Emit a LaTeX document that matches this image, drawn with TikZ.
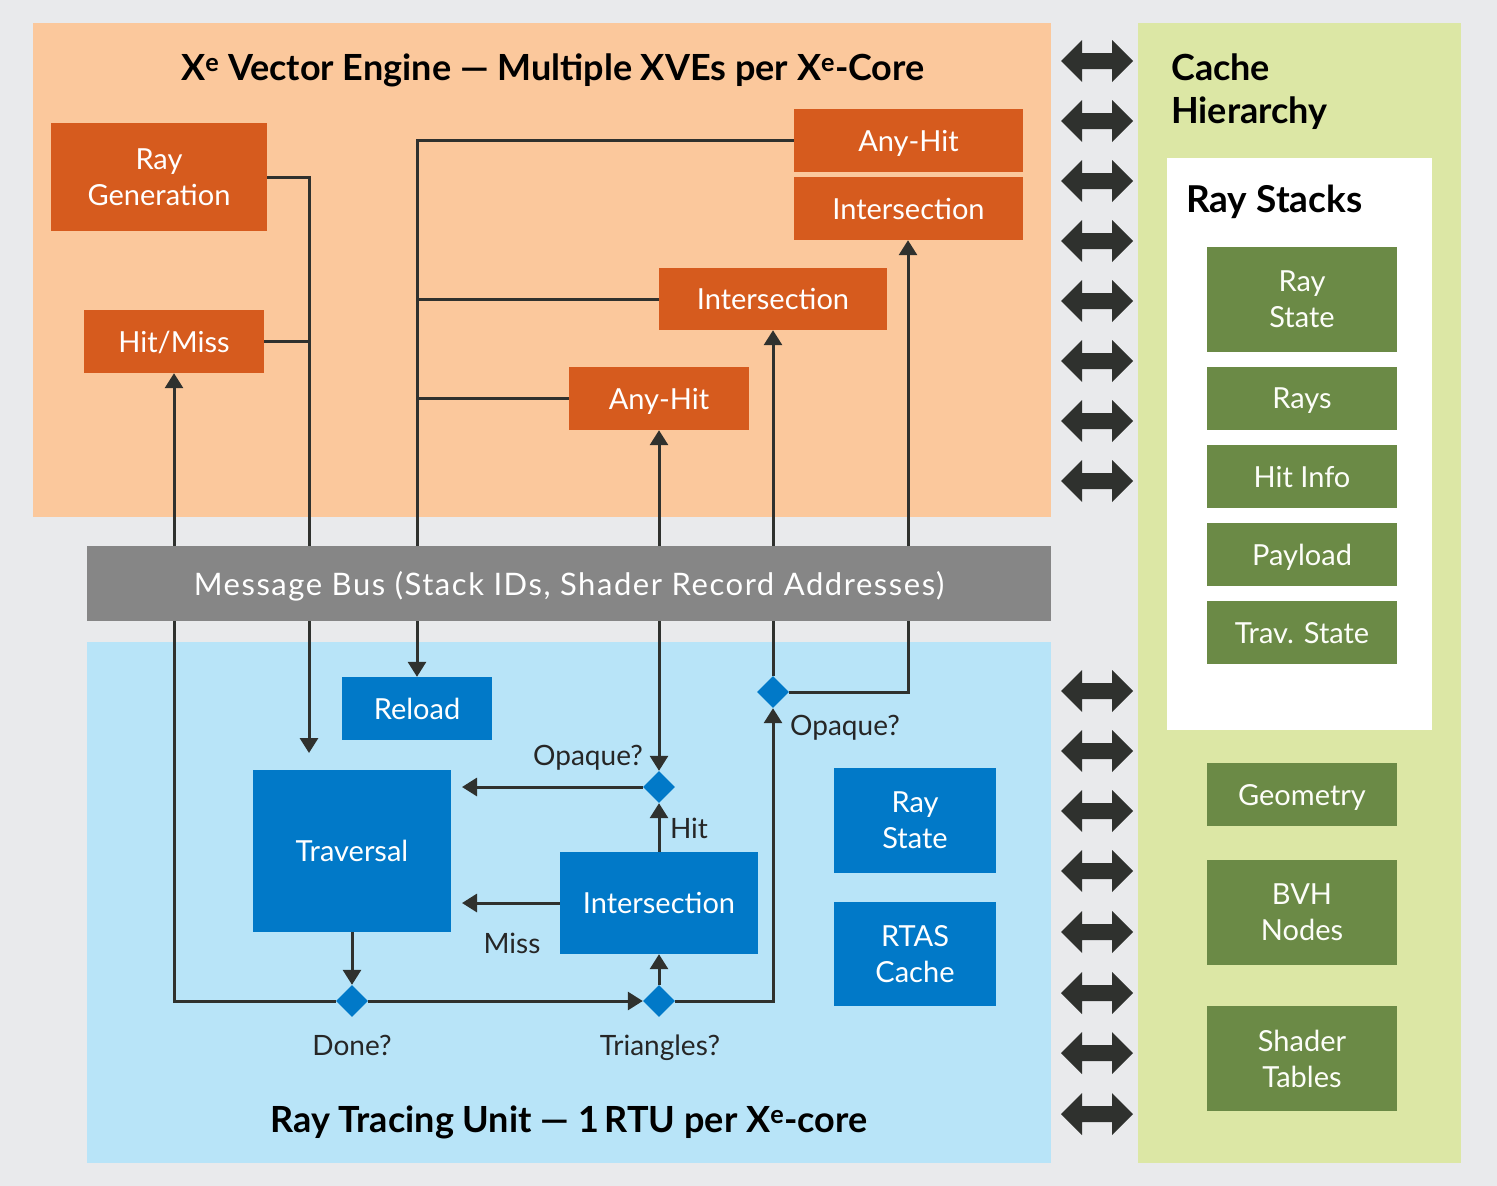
\documentclass[tikz,border=0pt]{standalone}
\usepackage{fontspec}
\setmainfont{Lato}
\usetikzlibrary{arrows.meta,shapes.geometric}
\definecolor{bgc}{HTML}{E9EAEC}
\definecolor{opanel}{HTML}{FBC89C}
\definecolor{obox}{HTML}{D65B1E}
\definecolor{busc}{HTML}{868686}
\definecolor{bpanel}{HTML}{B8E4F8}
\definecolor{bbox}{HTML}{0179C8}
\definecolor{gpanel}{HTML}{DCE7A5}
\definecolor{gbox}{HTML}{6B8A46}
\definecolor{ink}{HTML}{2F312E}
\newcommand\fsz[2]{\fontsize{#1}{#2}\selectfont}
\begin{document}
\begin{tikzpicture}[x=1pt,y=-1pt,
  ob/.style={rectangle, fill=obox, text=white, inner sep=0pt, text depth=0pt, align=center, font=\fsz{29}{36}},
  bb/.style={rectangle, fill=bbox, text=white, inner sep=0pt, text depth=0pt, align=center, font=\fsz{29}{36}},
  gb/.style={rectangle, fill=gbox, text=white!92!gpanel, inner sep=0pt, text depth=0pt, align=center, font=\fsz{29}{36}, minimum width=190pt},
  dia/.style={diamond, fill=bbox, inner sep=0pt, minimum width=32pt, minimum height=32pt},
  conn/.style={draw=ink, line width=3pt},
  arr/.style={conn, -{Triangle[length=15pt,width=18pt]}},
  lbl/.style={text=black!85, font=\fsz{28}{32}, inner sep=0pt, text depth=0pt},
  ttl/.style={text=black, font=\bfseries\fsz{36}{42}, inner sep=0pt, text depth=0pt},
  dbl/.pic={\fill[ink] (-36,0) -- (-15,-21) -- (-15,-8) -- (15,-8) -- (15,-21) -- (36,0) -- (15,21) -- (15,8) -- (-15,8) -- (-15,21) -- cycle;}
]
% background and panels
\fill[bgc] (0,0) rectangle (1497,1186);
\useasboundingbox (0,0) rectangle (1497,1186);
\fill[opanel] (33,23) rectangle (1051,517);
\fill[bpanel] (87,642) rectangle (1051,1163);
\fill[gpanel] (1138,23) rectangle (1461,1163);
\fill[white] (1167,158) rectangle (1432,730);

% titles
\node[ttl] (ttop) at (553,67) {X\textsuperscript{e} Vector Engine — Multiple XVEs per X\textsuperscript{e}-Core};
\node[ttl] (tbot) at (569,1119) {Ray Tracing Unit — 1\,RTU per X\textsuperscript{e}-core};
\node[ttl, anchor=west, align=left, font=\bfseries\fsz{36}{43}] (tcache) at (1171,88.5) {Cache\\Hierarchy};
\node[ttl, anchor=west, font=\bfseries\fsz{37}{43}] (tstack) at (1186,199) {Ray Stacks};

% orange boxes
\node[ob, minimum width=216pt, minimum height=108pt] (rg) at (159,177) {Ray\\Generation};
\node[ob, minimum width=180pt, minimum height=63pt] (hm) at (174,341.5) {Hit/Miss};
\node[ob, minimum width=229pt, minimum height=63pt] (ah1) at (908.5,140.5) {Any-Hit};
\node[ob, minimum width=229pt, minimum height=63pt] (is1) at (908.5,208.5) {Intersection};
\node[ob, minimum width=228pt, minimum height=62pt] (is2) at (773,299) {Intersection};
\node[ob, minimum width=180pt, minimum height=63pt] (ah2) at (659,398.5) {Any-Hit};

% message bus
\node[rectangle, fill=busc, text=white, inner sep=0pt, text depth=0pt, minimum width=964pt, minimum height=75pt, font=\fsz{31}{36}\addfontfeatures{LetterSpace=5}] (bus) at (569,583.5) {Message Bus (Stack IDs, Shader Record Addresses)};

% blue boxes
\node[bb, minimum width=150pt, minimum height=63pt] (reload) at (417,708.5) {Reload};
\node[bb, minimum width=198pt, minimum height=162pt] (trav) at (352,851) {Traversal};
\node[bb, minimum width=198pt, minimum height=102pt] (isec) at (659,903) {Intersection};
\node[bb, minimum width=162pt, minimum height=105pt] (rs) at (915,820.5) {Ray\\State};
\node[bb, minimum width=162pt, minimum height=104pt] (rtas) at (915,954) {RTAS\\Cache};

% diamonds
\node[dia] (dop1) at (659,787) {};
\node[dia] (dop2) at (773,692) {};
\node[dia] (ddone) at (352,1001) {};
\node[dia] (dtri) at (659,1001) {};

% green boxes
\node[gb, minimum height=105pt] (grs) at (1302,299.5) {Ray\\State};
\node[gb, minimum height=63pt] (grays) at (1302,398.5) {Rays};
\node[gb, minimum height=63pt] (ghit) at (1302,476.5) {Hit Info};
\node[gb, minimum height=63pt] (gpay) at (1302,554.5) {Payload};
\node[gb, minimum height=63pt] (gtrav) at (1302,632.5) {Trav. State};
\node[gb, minimum height=63pt] (ggeo) at (1302,794.5) {Geometry};
\node[gb, minimum height=105pt] (gbvh) at (1302,912.5) {BVH\\Nodes};
\node[gb, minimum height=105pt] (gsh) at (1302,1058.5) {Shader\\Tables};

% coordinates on the bus
\coordinate (t174) at (174,546);
\coordinate (t309) at (309,546);
\coordinate (t417) at (417,546);
\coordinate (t659) at (659,546);
\coordinate (t773) at (773,546);
\coordinate (t908) at (908,546);
\coordinate (b174) at (174,621);
\coordinate (b309) at (309,621);
\coordinate (b417) at (417,621);
\coordinate (b659) at (659,621);
\coordinate (b773) at (773,621);
\coordinate (b908) at (908,621);
\coordinate (e309) at (309,753);
\coordinate (tx) at (462,0);

% upper connectors
\draw[conn] (rg.east) -| (t309);
\draw[conn] (hm.east) -- (hm.east -| t309);
\draw[conn] (ah1.west) -| (t417);
\draw[conn] (is2.west) -- (is2.west -| t417);
\draw[conn] (ah2.west) -- (ah2.west -| t417);
\draw[arr] (t174) -- (hm.south);
\draw[arr] (t659) -- (ah2.south);
\draw[arr] (t773) -- (t773 |- is2.south);
\draw[arr] (t908) -- (t908 |- is1.south);

% lower connectors
\draw[conn] (b174) |- (ddone.west);
\draw[arr] (b309) -- (e309);
\draw[arr] (b417) -- (reload.north);
\draw[arr] (b659) -- (dop1.north);
\draw[conn] (b773) -- (dop2.north);
\draw[conn] (dop2.east) -| (b908);
\draw[arr] (dtri.east) -| (dop2.south);
\draw[arr] (dop1.west) -- (dop1.west -| tx);
\draw[arr] (isec.west) -- (isec.west -| tx);
\draw[arr] (isec.north) -- (dop1.south);
\draw[arr] (trav.south) -- (ddone.north);
\draw[arr] (ddone.east) -- (dtri.west);
\draw[arr] (dtri.north) -- (isec.south);

% labels
\node[lbl] (lop1) at (588,755) {Opaque?};
\node[lbl] (lop2) at (845,725) {Opaque?};
\node[lbl] (lhit) at (689,828) {Hit};
\node[lbl] (lmiss) at (512,943) {Miss};
\node[lbl] (ldone) at (352,1045) {Done?};
\node[lbl] (ltri) at (660,1045) {Triangles?};

% double arrows
\foreach \yy in {61,121,181,241,301,361,421,481,691,751,811,871,932,993,1053,1114}
  \pic at (1097,\yy) {dbl};
\end{tikzpicture}
\end{document}
